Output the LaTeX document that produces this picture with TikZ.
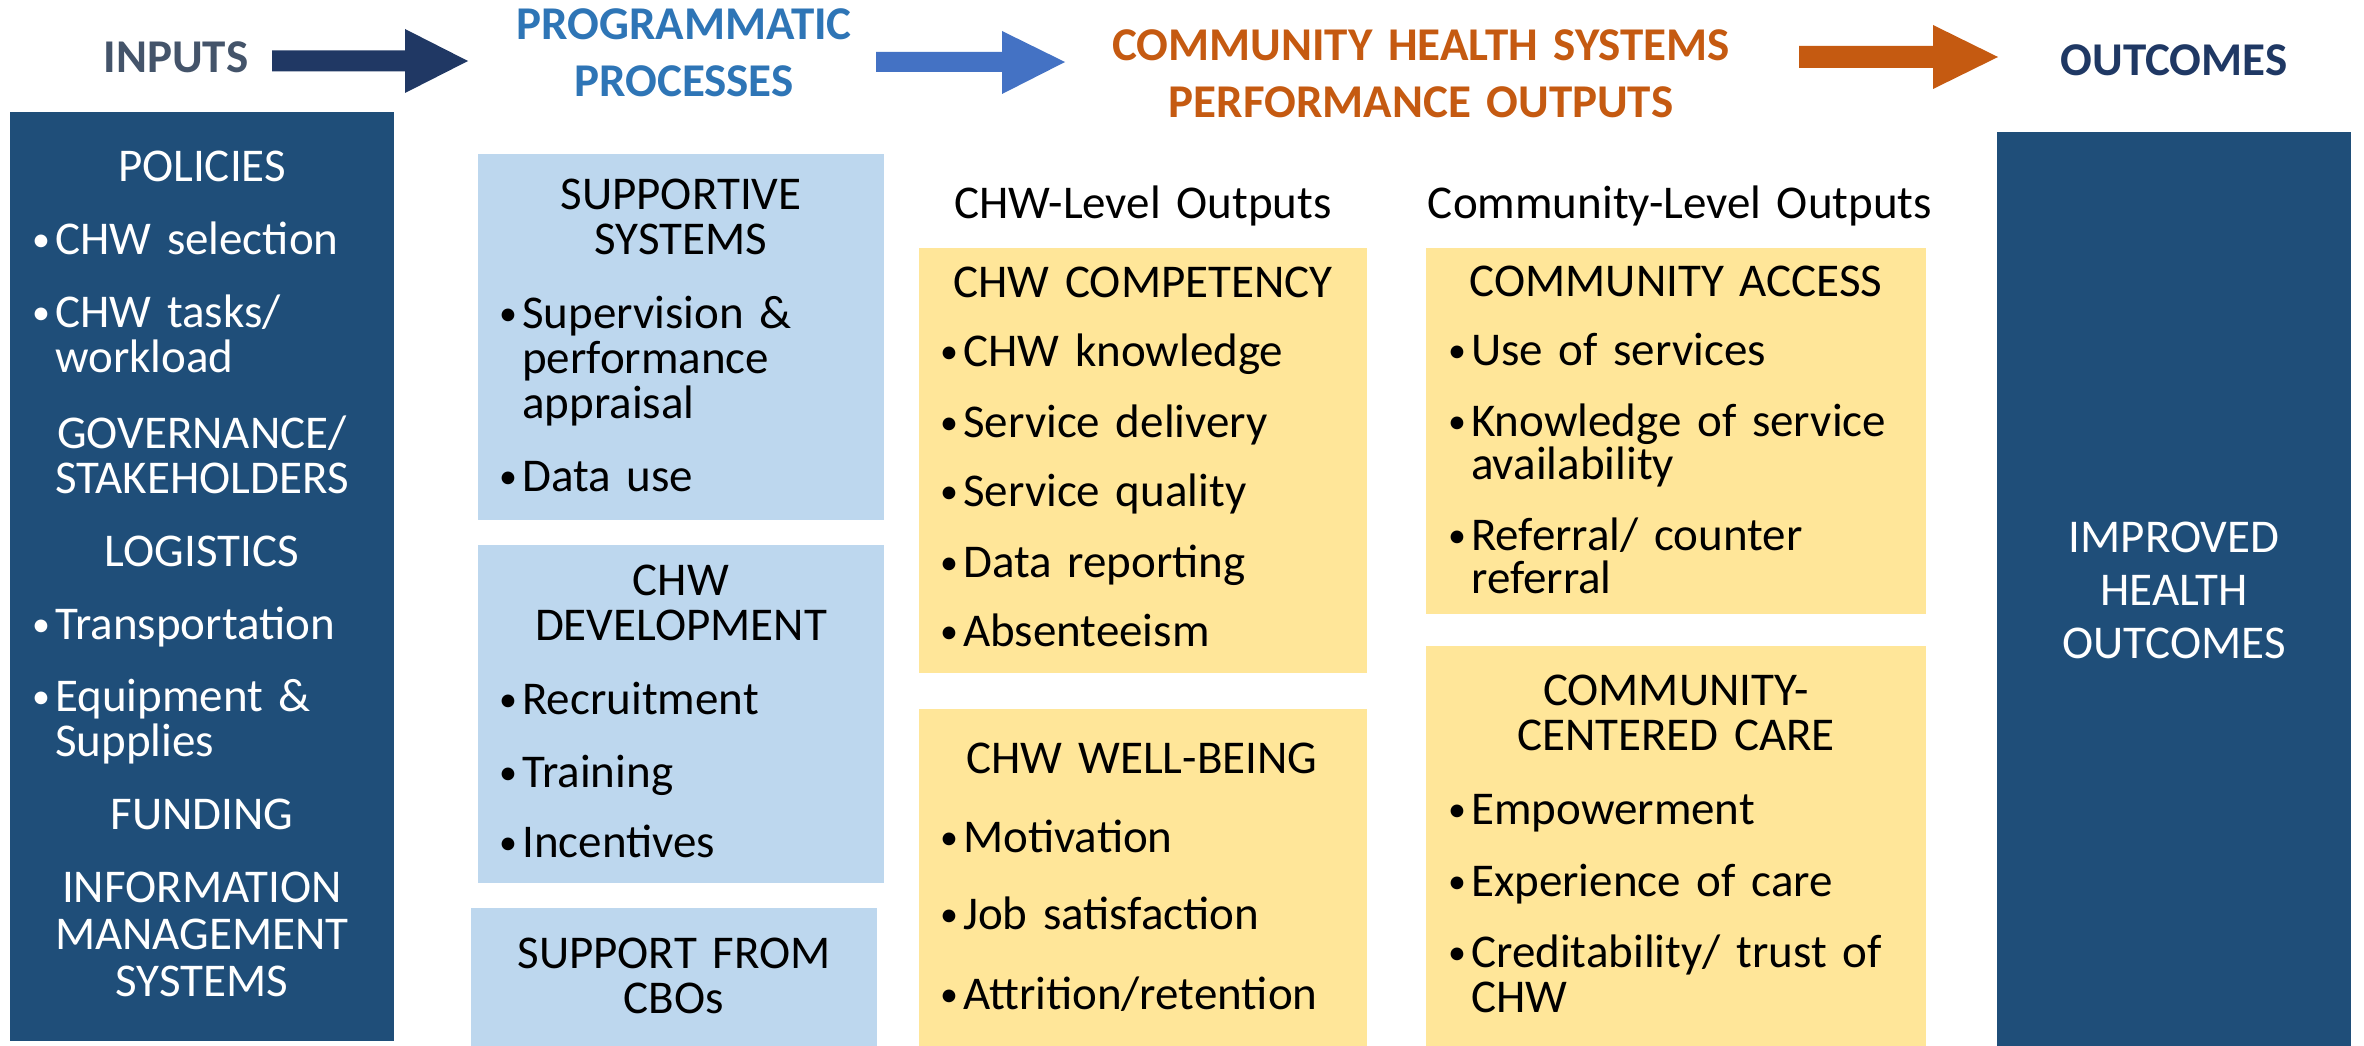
\documentclass[tikz,border=0pt]{standalone}
\usepackage{fontspec}
\setmainfont{Carlito}
\definecolor{dblue}{HTML}{1F4E79}
\definecolor{lblue}{HTML}{BDD7EE}
\definecolor{lyel}{HTML}{FFE699}
\definecolor{arrowA}{HTML}{203864}
\definecolor{arrowB}{HTML}{4472C4}
\definecolor{arrowC}{HTML}{C55A11}
\definecolor{tinputs}{HTML}{44546A}
\definecolor{tproc}{HTML}{2E75B6}
\definecolor{tchs}{HTML}{C55A11}
\definecolor{tout}{HTML}{1F3864}
\newcommand\bul{\makebox[24pt][l]{\hspace{1pt}\raisebox{3pt}{\fontsize{36}{36}\selectfont\textbullet}}}
\newcommand\ind{\hspace*{24pt}}
\begin{document}
\begin{tikzpicture}[x=1pt,y=-1pt,
  boxshape/.style={inner sep=0pt, outer sep=0pt, draw=none, anchor=north west},
  ttl/.style={inner sep=0pt, font=\fontsize{47}{57}\selectfont\bfseries, align=center, text width=800pt, anchor=base},
  head/.style={inner sep=0pt, font=\fontsize{47}{45}\selectfont, align=center, text width=800pt, anchor=base},
  blist/.style={inner sep=0pt, font=\fontsize{47}{45}\selectfont, align=left, text width=500pt, anchor=base west}]
\useasboundingbox (0,0) rectangle (2364,1046);
\fill[white] (0,0) rectangle (2364,1046);

% titles
\node[ttl, text=tinputs] (t-in) at (176,73) {INPUTS};
\node[ttl, text=tproc] (t-proc) at (684,40) {PROGRAMMATIC\\PROCESSES};
\node[ttl, text=tchs] (t-chs) at (1421,61) {COMMUNITY HEALTH SYSTEMS\\PERFORMANCE OUTPUTS};
\node[ttl, text=tout] (t-out) at (2174,76) {OUTCOMES};

% block arrows
\fill[arrowA] (272,50.5) -- (405,50.5) -- (405,29) -- (468,61) -- (405,93) -- (405,71.5) -- (272,71.5) -- cycle;
\fill[arrowB] (876,52) -- (1002,52) -- (1002,31) -- (1065,62) -- (1002,94) -- (1002,72) -- (876,72) -- cycle;
\fill[arrowC] (1799,46) -- (1933,46) -- (1933,25) -- (1998,57) -- (1933,89) -- (1933,68) -- (1799,68) -- cycle;

% boxes
\node[boxshape, fill=dblue, minimum width=384pt, minimum height=929pt] (inbox) at (10,112) {};
\node[boxshape, fill=lblue, minimum width=406pt, minimum height=366pt] (supbox) at (478,154) {};
\node[boxshape, fill=lblue, minimum width=406pt, minimum height=338pt] (devbox) at (478,545) {};
\node[boxshape, fill=lblue, minimum width=406pt, minimum height=138pt] (cbobox) at (471,908) {};
\node[boxshape, fill=lyel, minimum width=448pt, minimum height=425pt] (compbox) at (919,248) {};
\node[boxshape, fill=lyel, minimum width=448pt, minimum height=337pt] (wellbox) at (919,709) {};
\node[boxshape, fill=lyel, minimum width=500pt, minimum height=366pt] (accbox) at (1426,248) {};
\node[boxshape, fill=lyel, minimum width=500pt, minimum height=400pt] (carebox) at (1426,646) {};
\node[boxshape, fill=dblue, minimum width=354pt, minimum height=914pt] (outbox) at (1997,132) {};

% inputs text
\node[head, text=white] (in-pol) at (202,181) {POLICIES};
\node[blist, text=white] (in-pol-l) at (31,254) {\bul CHW selection\\[28pt]\bul CHW tasks/\\\ind workload};
\node[head, text=white] (in-gov) at (202,448) {GOVERNANCE/\\STAKEHOLDERS};
\node[head, text=white] (in-log) at (202,566) {LOGISTICS};
\node[blist, text=white] (in-log-l) at (31,639) {\bul Transportation\\[27pt]\bul Equipment \&\\\ind Supplies};
\node[head, text=white] (in-fund) at (202,829) {FUNDING};
\node[head, text=white] (in-ims) at (202,902) {INFORMATION\\[2pt]MANAGEMENT\\[2pt]SYSTEMS};

% programmatic processes
\node[head] (sup-h) at (681,209) {SUPPORTIVE\\SYSTEMS};
\node[blist] (sup-l) at (498,328) {\bul Supervision \&\\\ind performance\\\ind appraisal\\[28pt]\bul Data use};
\node[head] (dev-h) at (681,595) {CHW\\DEVELOPMENT};
\node[blist] (dev-l) at (498,714) {\bul Recruitment\\[28pt]\bul Training\\[25pt]\bul Incentives};
\node[head] (cbo-h) at (674,968) {SUPPORT FROM\\CBOs};

% CHW-level outputs
\node[head] (lvl1) at (1143,218) {CHW-Level Outputs};
\node[head] (comp-h) at (1143,297) {CHW COMPETENCY};
\node[blist] (comp-l) at (939,366) {\bul CHW knowledge\\[26pt]\bul Service delivery\\[24pt]\bul Service quality\\[26pt]\bul Data reporting\\[24pt]\bul Absenteeism};
\node[head] (well-h) at (1142,773) {CHW WELL-BEING};
\node[blist] (well-l) at (939,852) {\bul Motivation\\[32pt]\bul Job satisfaction\\[35pt]\bul Attrition/retention};

% community-level outputs
\node[head] (lvl2) at (1680,218) {Community-Level Outputs};
\node[head] (acc-h) at (1676,296) {COMMUNITY ACCESS};
\node[blist] (acc-l) at (1447,365) {\bul Use of services\\[26pt]\bul Knowledge of service\\[-2pt]\ind availability\\[26pt]\bul Referral/ counter\\[-2pt]\ind referral};
\node[head] (care-h) at (1676,705) {COMMUNITY-\\CENTERED CARE};
\node[blist] (care-l) at (1447,824) {\bul Empowerment\\[27pt]\bul Experience of care\\[26pt]\bul Creditability/ trust of\\\ind CHW};

% outcomes
\node[head, text=white] (out-h) at (2174,552) {IMPROVED\\[8pt]HEALTH\\[8pt]OUTCOMES};
\end{tikzpicture}
\end{document}
